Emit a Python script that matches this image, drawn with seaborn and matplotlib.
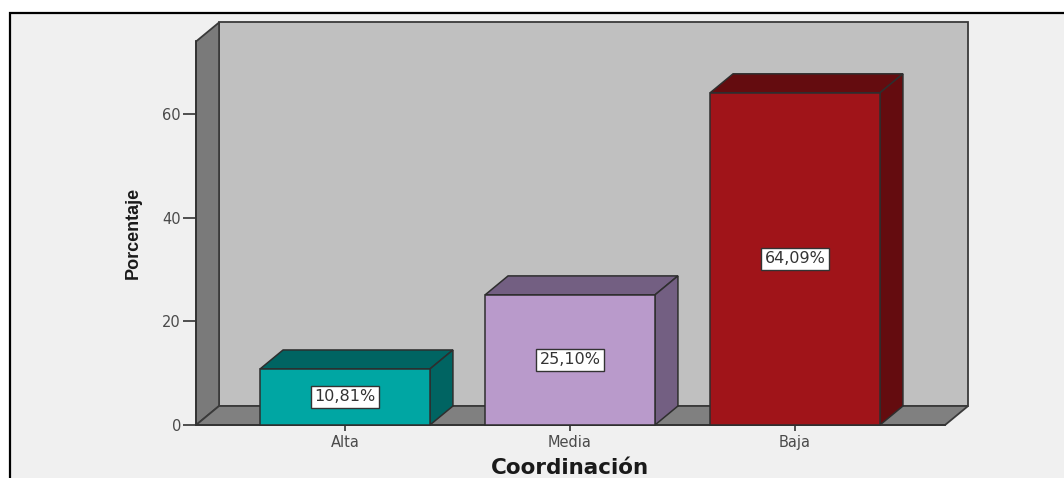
import matplotlib
matplotlib.use("Agg")
import matplotlib.pyplot as plt
from matplotlib.patches import Polygon, Rectangle
import seaborn as sns
import pandas as pd

# Data
categories = ["Alta", "Media", "Baja"]
percentages = [10.81, 25.10, 64.09]
y_ticks = [0, 20, 40, 60]
x_title = "Coordinación"
y_title = "Porcentaje"

# Styling
front_colors = ["#00a6a3", "#b99acb", "#a01419"]
shade_colors = ["#006462", "#735f82", "#640c0f"]
edge = "#2e2e2e"

W, H, DPI = 1064, 478, 100
PX_X = 225.0      # pixels per category step
PX_Y = 5.183      # pixels per percentage point
X0_PX, Y0_PX = 345.0, 425.0   # pixel position of first category / zero line
DX = 23.0 / PX_X  # 3-D depth offset (data units)
DY = 19.0 / PX_Y
BOX_LEFT, BOX_RIGHT, BOX_TOP = -0.662, 2.667, 74.0

sns.set_theme(style="white")
plt.rcParams["font.family"] = ["DejaVu Sans"]

fig = plt.figure(figsize=(W / DPI, H / DPI), dpi=DPI, facecolor="white")
fig.patches.append(Rectangle((9.5 / W, -0.05), 1.1, (H - 12.5) / H + 0.05,
                             transform=fig.transFigure, facecolor="#f0f0f0",
                             edgecolor="black", lw=1.6, zorder=-10))
ax = fig.add_axes([0, 0, 1, 1])
ax.set_facecolor("none")
ax.set_zorder(1)

df = pd.DataFrame({"cat": categories, "pct": percentages})
sns.barplot(data=df, x="cat", y="pct", hue="cat", palette=front_colors,
            saturation=1, width=0.755, edgecolor=edge, linewidth=1.1,
            legend=False, ax=ax, zorder=3)
bars = list(ax.patches)

ax.set_xlim(-X0_PX / PX_X, (W - X0_PX) / PX_X)
ax.set_ylim(-(H - Y0_PX) / PX_Y, Y0_PX / PX_Y)

# Chart box: left wall, back wall, floor
xl, xr, yt = BOX_LEFT, BOX_RIGHT, BOX_TOP
walls = [
    ([(xl + DX, DY), (xr + DX, DY), (xr + DX, yt + DY), (xl + DX, yt + DY)], "#c0c0c0"),
    ([(xl, 0), (xl + DX, DY), (xl + DX, yt + DY), (xl, yt)], "#7a7a7a"),
    ([(xl, 0), (xr, 0), (xr + DX, DY), (xl + DX, DY)], "#808080"),
]
for pts, fc in walls:
    ax.add_patch(Polygon(pts, closed=True, facecolor=fc, edgecolor="#3a3a3a",
                         lw=1.3, zorder=1))

# Bar tops and sides
for bar, shade, val in zip(bars, shade_colors, percentages):
    x, w, h = bar.get_x(), bar.get_width(), bar.get_height()
    top = [(x, h), (x + w, h), (x + w + DX, h + DY), (x + DX, h + DY)]
    side = [(x + w, 0), (x + w + DX, DY), (x + w + DX, h + DY), (x + w, h)]
    for pts in (top, side):
        ax.add_patch(Polygon(pts, closed=True, facecolor=shade, edgecolor=edge,
                             lw=1.1, zorder=2.5))
    label = f"{val:.2f}%".replace(".", ",")
    ax.text(x + w / 2, h / 2, label, ha="center", va="center", fontsize=11.5,
            color="#333333", zorder=5,
            bbox=dict(boxstyle="square,pad=0.2", fc="white", ec="#333333", lw=1))

# Axes lines and ticks
for s in ("top", "right"):
    ax.spines[s].set_visible(False)
ax.spines["left"].set_position(("data", xl))
ax.spines["left"].set_bounds(0, yt)
ax.spines["left"].set_color("#333333")
ax.spines["left"].set_linewidth(1.3)
ax.spines["left"].set_zorder(4)
ax.spines["bottom"].set_position(("data", 0))
ax.spines["bottom"].set_bounds(xl, xr)
ax.spines["bottom"].set_color("#333333")
ax.spines["bottom"].set_linewidth(1.3)

ax.set_yticks(y_ticks)
ax.tick_params(axis="y", left=True, direction="out", length=9.4, width=1.2,
               color="#333333", labelsize=10.5, labelcolor="#4a4a4a", pad=1.5)
ax.tick_params(axis="x", bottom=True, direction="out", length=4, width=1.2,
               color="#333333", labelsize=10.5, labelcolor="#4a4a4a", pad=3)

ax.set_xlabel(x_title, fontsize=15.5, fontweight="bold", color="#1a1a1a")
ax.xaxis.set_label_coords(570 / W, 10 / H)
ax.xaxis.label.set_va("center")

ax.set_ylabel(y_title, fontsize=13, fontweight="bold", color="#1a1a1a",
              family=["Liberation Sans", "DejaVu Sans"])
ax.yaxis.set_label_coords(133 / W, (H - 233) / H)
ax.yaxis.label.set_va("center")

fig.savefig("out.png", dpi=DPI, facecolor="white")
